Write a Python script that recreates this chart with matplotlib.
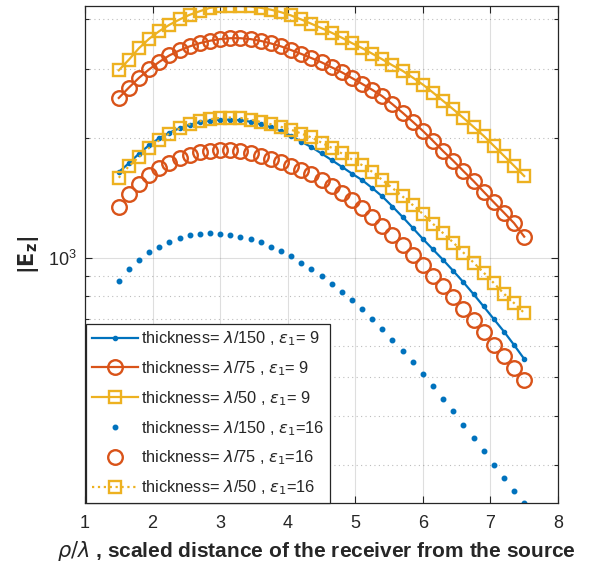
import numpy as np
import matplotlib
matplotlib.use("Agg")
import matplotlib.pyplot as plt
from matplotlib.ticker import LogLocator, NullFormatter

plt.rcParams['font.family'] = ['Liberation Sans', 'DejaVu Sans']
plt.rcParams['mathtext.fontset'] = 'dejavusans'

# ---------------- data ----------------
rho = np.linspace(1.5, 7.5, 41)

e9_l150 = [1645, 1733, 1831, 1924, 2003, 2068, 2123, 2166, 2198, 2217, 2230,
           2230, 2223, 2204, 2172, 2135, 2086, 2032, 1963, 1902, 1833, 1764,
           1697, 1631, 1571, 1500, 1428, 1347, 1268, 1190, 1116, 1050, 988,
           927, 868, 810, 754, 701, 652, 603, 556]
e9_l75 = [2530, 2687, 2844, 2987, 3120, 3239, 3334, 3413, 3478, 3527, 3560,
          3578, 3578, 3560, 3523, 3472, 3413, 3340, 3267, 3189, 3111, 3022,
          2936, 2840, 2746, 2653, 2555, 2439, 2322, 2204, 2090, 1972, 1858,
          1757, 1655, 1562, 1468, 1381, 1300, 1223, 1131]
e9_l50 = [2970, 3160, 3379, 3568, 3729, 3869, 3990, 4100, 4186, 4269, 4302,
          4314, 4314, 4302, 4269, 4223, 4162, 4083, 3990, 3891, 3794, 3694,
          3589, 3478, 3379, 3271, 3165, 3057, 2961, 2847, 2734, 2610, 2486,
          2369, 2253, 2139, 2030, 1916, 1808, 1706, 1608]
e16_l150 = [873, 937, 988, 1033, 1068, 1099, 1125, 1143, 1151, 1156, 1151,
            1144, 1131, 1114, 1095, 1068, 1041, 1012, 973, 940, 901, 860,
            820, 781, 741, 701, 662, 622, 584, 547, 510, 475, 442, 410, 380,
            351, 325, 301, 279, 259, 241]
e16_l75 = [1346, 1446, 1535, 1617, 1681, 1736, 1781, 1815, 1844, 1861, 1869,
           1869, 1861, 1842, 1810, 1777, 1743, 1708, 1669, 1626, 1575, 1520,
           1461, 1399, 1333, 1270, 1204, 1140, 1075, 1018, 960, 901, 847, 796,
           743, 696, 649, 604, 565, 528, 491]
e16_l50 = [1592, 1703, 1798, 1894, 1980, 2058, 2119, 2172, 2210, 2236, 2253,
           2258, 2253, 2232, 2202, 2172, 2139, 2104, 2058, 2011, 1952, 1894,
           1833, 1771, 1713, 1648, 1571, 1500, 1428, 1359, 1290, 1218, 1154,
           1093, 1031, 973, 918, 864, 812, 769, 726]

labels = [r'thickness= $\lambda$/150 , $\epsilon_1$= 9',
          r'thickness= $\lambda$/75 , $\epsilon_1$= 9',
          r'thickness= $\lambda$/50 , $\epsilon_1$= 9',
          r'thickness= $\lambda$/150 , $\epsilon_1$=16',
          r'thickness= $\lambda$/75 , $\epsilon_1$=16',
          r'thickness= $\lambda$/50 , $\epsilon_1$=16']

xticks = [1, 2, 3, 4, 5, 6, 7, 8]

# ---------------- style ----------------
blue, red, yellow = '#0072BD', '#D95319', '#EDB120'
dark = '#262626'

fig = plt.figure(figsize=(5.9, 5.64), dpi=100)
ax = fig.add_axes([85/590, 61/564, 473/590, 497/564])

lw = 1.6
mw = 1.7
ax.plot(rho, e9_l150, linestyle='-', marker='.', color=blue, lw=lw, ms=6, label=labels[0])
ax.plot(rho, e9_l75, linestyle='-', marker='o', color=red, mfc='none', ms=10.5, mew=mw, lw=lw, label=labels[1])
ax.plot(rho, e9_l50, linestyle='-', marker='s', color=yellow, mfc='none', ms=9, mew=mw, lw=lw, label=labels[2])
ax.plot(rho, e16_l150, linestyle='none', marker='.', color=blue, ms=6.5, label=labels[3])
ax.plot(rho, e16_l75, linestyle='none', marker='o', color=red, mfc='none', ms=10.5, mew=mw, label=labels[4])
ax.plot(rho, e16_l50, linestyle=':', marker='s', color=yellow, mfc='none', ms=9, mew=mw, lw=lw, label=labels[5])

ax.set_yscale('log')
ax.set_xlim(xticks[0], xticks[-1])
ymin = min(min(e16_l150), min(e9_l150))
ymax = max(e9_l50)
ax.set_ylim(ymin, ymax)
ax.set_xticks(xticks)
ax.yaxis.set_major_locator(LogLocator(base=10))
ax.yaxis.set_minor_locator(LogLocator(base=10, subs=np.arange(2, 10)))
ax.yaxis.set_minor_formatter(NullFormatter())

for s in ax.spines.values():
    s.set_color(dark)
    s.set_linewidth(0.9)
ax.tick_params(which='both', direction='in', top=True, right=True,
               colors=dark, labelsize=13)
ax.tick_params(which='major', length=5, width=0.8)
ax.tick_params(which='minor', length=3, width=0.8)
ax.tick_params(axis='x', pad=9)
ax.tick_params(axis='y', pad=6)

ax.grid(True, which='major', color=dark, alpha=0.15, lw=0.8, ls='-')
ax.grid(True, which='minor', axis='y', color=dark, alpha=0.3, lw=0.8, ls=(0, (1, 3)))
ax.set_axisbelow(True)

ax.set_xlabel(r'$\rho/\lambda$ , scaled distance of the receiver from the source',
              fontsize=15, fontweight='bold', color=dark)
ax.xaxis.set_label_coords(0.49, -0.097)
ax.xaxis.label.set_va('center')
ax.set_ylabel(r'$\mathbf{|E_z|}$', fontsize=15, fontweight='bold', color=dark)
ax.yaxis.set_label_coords(-0.12, 0.5)
ax.yaxis.label.set_va('center')

leg = ax.legend(loc='lower left', bbox_to_anchor=(0.002, 0.0), borderaxespad=0,
                fontsize=11.8, handlelength=2.8, handletextpad=0.2,
                labelspacing=0.68, borderpad=0.35, fancybox=False,
                framealpha=1, edgecolor=dark)
leg.get_frame().set_linewidth(0.9)
for t in leg.get_texts():
    t.set_color(dark)

fig.savefig('out.png', dpi=100)
